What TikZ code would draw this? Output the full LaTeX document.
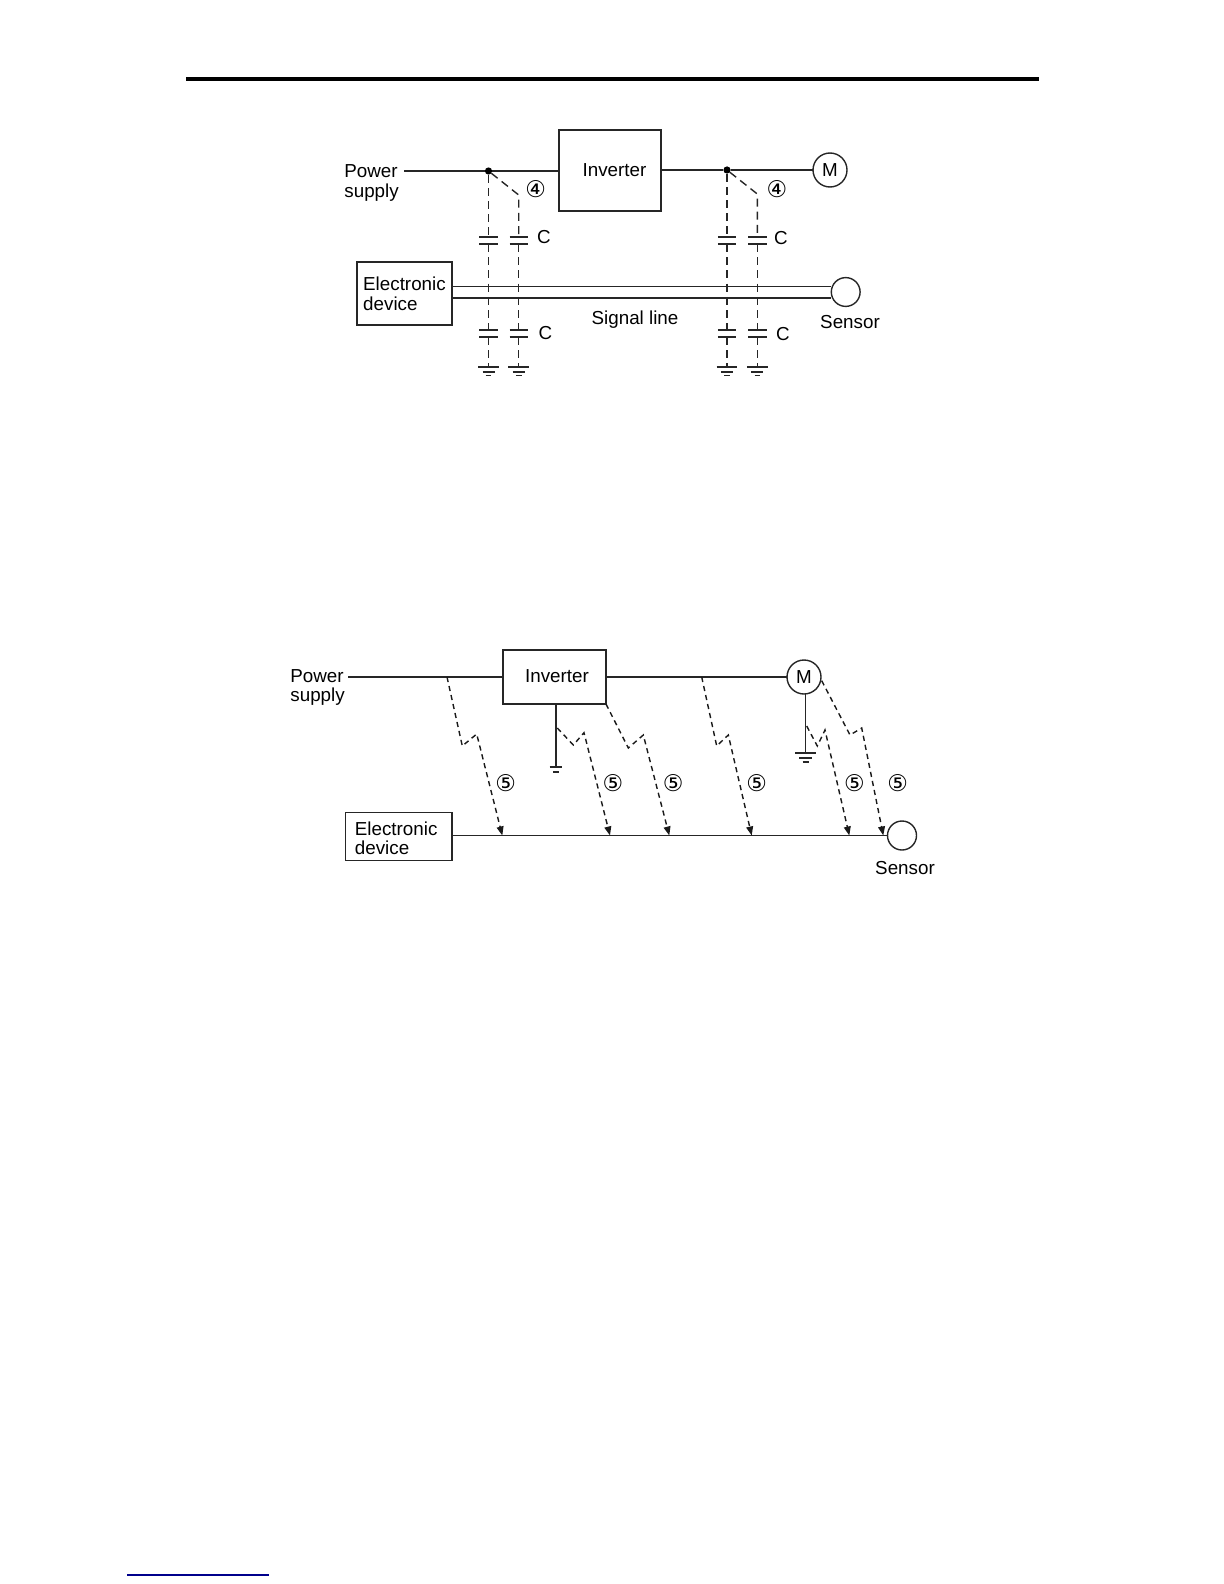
\documentclass[tikz,border=0pt]{standalone}
\usepackage{fontspec}
\setmainfont{Liberation Sans}
\newfontfamily\symbfont{DejaVu Sans}
\usetikzlibrary{arrows.meta}
\tikzset{
  wire/.style={line width=0.7pt,black!85},
  boxnode/.style={draw,line width=0.7pt,black!85,text=black,inner sep=0pt,outer sep=0pt,font=\fontsize{9.4}{9.8}\selectfont},
  lefttext/.style={align=left,inner xsep=3.2pt,inner ysep=0pt},
  ring/.style={circle,draw,line width=0.7pt,black!85,text=black,fill=white,inner sep=0pt,outer sep=0pt,minimum size=#1,font=\fontsize{9.4}{9.8}\selectfont},
  txt/.style={inner sep=0pt,font=\fontsize{9.4}{9.8}\selectfont,align=left},
  num/.style={inner sep=0pt,font=\symbfont\fontsize{11.5}{11.5}\selectfont},
  dot/.style={circle,fill=black,inner sep=0pt,outer sep=0pt,minimum size=3.6pt},
  coupling/.style={line width=0.7pt,black!85,dash pattern=on 4pt off 2.6pt},
  noise/.style={line width=0.7pt,black!90,dash pattern=on 2.6pt off 2pt,-{Triangle[length=4.5pt,width=3.4pt]}},
  plate/.style={line width=0.7pt,black!85},
}
% capacitor pair and earth on one vertical leg of the upper figure
\newcommand{\capleg}[2]{%
  \coordinate (#1a) at (#2,237); \coordinate (#1b) at (#2,244);
  \coordinate (#1c) at (#2,330); \coordinate (#1d) at (#2,337);
  \coordinate (#1e) at (#2,367);
  \draw[plate] ([xshift=-4.6pt]#1a) -- ([xshift=4.6pt]#1a);
  \draw[plate] ([xshift=-4.6pt]#1b) -- ([xshift=4.6pt]#1b);
  \draw[plate] ([xshift=-4.6pt]#1c) -- ([xshift=4.6pt]#1c);
  \draw[plate] ([xshift=-4.6pt]#1d) -- ([xshift=4.6pt]#1d);
  \draw[coupling] (#1b) -- (#1c);
  \draw[coupling] (#1d) -- (#1e);
  \draw[plate] ([xshift=-5.2pt]#1e) -- ([xshift=5.2pt]#1e);
  \draw[plate] ([xshift=-3pt,yshift=-2.5pt]#1e) -- ([xshift=3pt,yshift=-2.5pt]#1e);
  \draw[plate] ([xshift=-1.4pt,yshift=-4.2pt]#1e) -- ([xshift=1.4pt,yshift=-4.2pt]#1e);
}
\begin{document}
\begin{tikzpicture}[x=0.5pt,y=-0.5pt]
\useasboundingbox (0,0) rectangle (1224,1584);

% page rules
\coordinate (ruleL) at (186,79);
\coordinate (ruleR) at (1039,79);
\draw[line width=2pt,black] (ruleL) -- (ruleR);
\coordinate (linkL) at (127,1575);
\coordinate (linkR) at (269,1575);
\draw[line width=0.75pt,blue!55!black] (linkL) -- (linkR);

% ===== upper figure =====
\node[txt,anchor=west] (psA) at (344,183) {Power\\supply};
\coordinate (psAend) at (404,171);
\node[boxnode,minimum width=51pt,minimum height=40.5pt] (invA) at (610,170.5) {\hspace*{4.5pt}\raisebox{-1pt}{Inverter}};
\node[ring=17pt] (motA) at (830,170) {M};
\node[dot] (j1) at (488.5,171) {};
\node[dot] (j2) at (727,170) {};
\draw[wire] (psAend) -- (j1) -- (j1 -| invA.west);
\draw[wire] (invA.east |- j2) -- (j2) -- (motA.west);

\node[boxnode,minimum width=47.6pt,minimum height=31.6pt,text width=41.2pt,lefttext] (elecA) at (404.4,293.5) {Electronic\\device};
\node[ring=14.4pt] (senA) at (845.7,292) {};
\coordinate (sigA1) at (452,286.7);
\coordinate (sigA2) at (452,298);
\draw[wire] (sigA1) -- (sigA1 -| senA.west);
\draw[wire] (sigA2) -- (sigA2 -| senA.west);
\node[txt] (sigtxt) at (635,319.5) {Signal line};
\node[txt] (sentxtA) at (850,322) {Sensor};

\capleg{p}{488.5}
\capleg{q}{518.7}
\capleg{r}{727}
\capleg{s}{757.3}
\coordinate (qbend) at (518.7,195);
\coordinate (sbend) at (757.3,194);
\draw[coupling] (j1) -- (pa);
\draw[coupling] (j1) -- (qbend) -- (qa);
\draw[coupling] (j2) -- (ra);
\draw[coupling] (j2) -- (sbend) -- (sa);

\node[num] (n4a) at (535.7,189.5) {④};
\node[num] (n4b) at (777,189) {④};
\node[txt] (c1) at (544,237) {C};
\node[txt] (c2) at (545.5,333) {C};
\node[txt] (c3) at (781,238.5) {C};
\node[txt] (c4) at (783,334.5) {C};

% ===== lower figure =====
\node[txt,anchor=west] (psB) at (290,687.5) {Power\\supply};
\coordinate (psBend) at (348,677);
\node[boxnode,minimum width=51.5pt,minimum height=27pt] (invB) at (554.5,677) {\hspace*{2.5pt}\raisebox{0.8pt}{Inverter}};
\node[ring=17pt] (motB) at (804,677) {M};
\draw[wire] (psBend) -- (invB.west |- psBend);
\draw[wire] (invB.east |- motB) -- (motB.west);

\coordinate (gi) at (556,767);
\draw[wire] (invB.south -| gi) -- (gi);
\draw[plate] ([xshift=-3.2pt]gi) -- ([xshift=3.2pt]gi);
\draw[plate] ([xshift=-1.3pt,yshift=-2.5pt]gi) -- ([xshift=1.3pt,yshift=-2.5pt]gi);

\coordinate (gm) at (805.7,753);
\draw[wire] (motB.south -| gm) -- (gm);
\draw[plate] ([xshift=-5.2pt]gm) -- ([xshift=5.2pt]gm);
\draw[plate] ([xshift=-3.2pt,yshift=-2.5pt]gm) -- ([xshift=3.2pt,yshift=-2.5pt]gm);
\draw[plate] ([xshift=-1.5pt,yshift=-4.5pt]gm) -- ([xshift=1.5pt,yshift=-4.5pt]gm);

\node[boxnode,minimum width=53.2pt,minimum height=24pt,text width=44pt,lefttext,inner xsep=4.6pt] (elecB) at (398.9,836.7) {\rule{0pt}{8.4pt}Electronic\\device};
\node[ring=14.5pt] (senB) at (902,835.5) {};
\draw[wire] (elecB.east |- senB) -- (senB.west);
\node[txt] (sentxtB) at (905,868) {Sensor};

% noise paths
\coordinate (a0) at (447,677);   \coordinate (a1) at (462.3,746); \coordinate (a2) at (476.7,734); \coordinate (a3) at (502.3,835.5);
\coordinate (b0) at (557.3,728); \coordinate (b1) at (573.3,745); \coordinate (b2) at (584,732.7); \coordinate (b3) at (610,835.5);
\coordinate (c0) at (606,704);   \coordinate (c1p) at (628.3,748);\coordinate (c2p) at (643.3,735);\coordinate (c3p) at (669.3,835.5);
\coordinate (d0) at (701.7,677); \coordinate (d1) at (716.7,746); \coordinate (d2) at (728.3,735);\coordinate (d3) at (751.7,835.5);
\coordinate (e0) at (806.7,726); \coordinate (e1) at (817.3,746); \coordinate (e2) at (825,730);  \coordinate (e3) at (849.3,835.5);
\coordinate (f0) at (821.7,680.7);\coordinate (f1) at (850,735);  \coordinate (f2) at (861.7,728);\coordinate (f3) at (883.3,835.5);
\draw[noise] (a0) -- (a1) -- (a2) -- (a3);
\draw[noise] (b0) -- (b1) -- (b2) -- (b3);
\draw[noise] (c0) -- (c1p) -- (c2p) -- (c3p);
\draw[noise] (d0) -- (d1) -- (d2) -- (d3);
\draw[noise] (e0) -- (e1) -- (e2) -- (e3);
\draw[noise] (f0) -- (f1) -- (f2) -- (f3);

\node[num] (n5a) at (505.7,783.5) {⑤};
\node[num] (n5b) at (613,783.5) {⑤};
\node[num] (n5c) at (673.3,783.5) {⑤};
\node[num] (n5d) at (756.7,783.5) {⑤};
\node[num] (n5e) at (854.3,783.5) {⑤};
\node[num] (n5f) at (897.7,783.5) {⑤};
\end{tikzpicture}
\end{document}
